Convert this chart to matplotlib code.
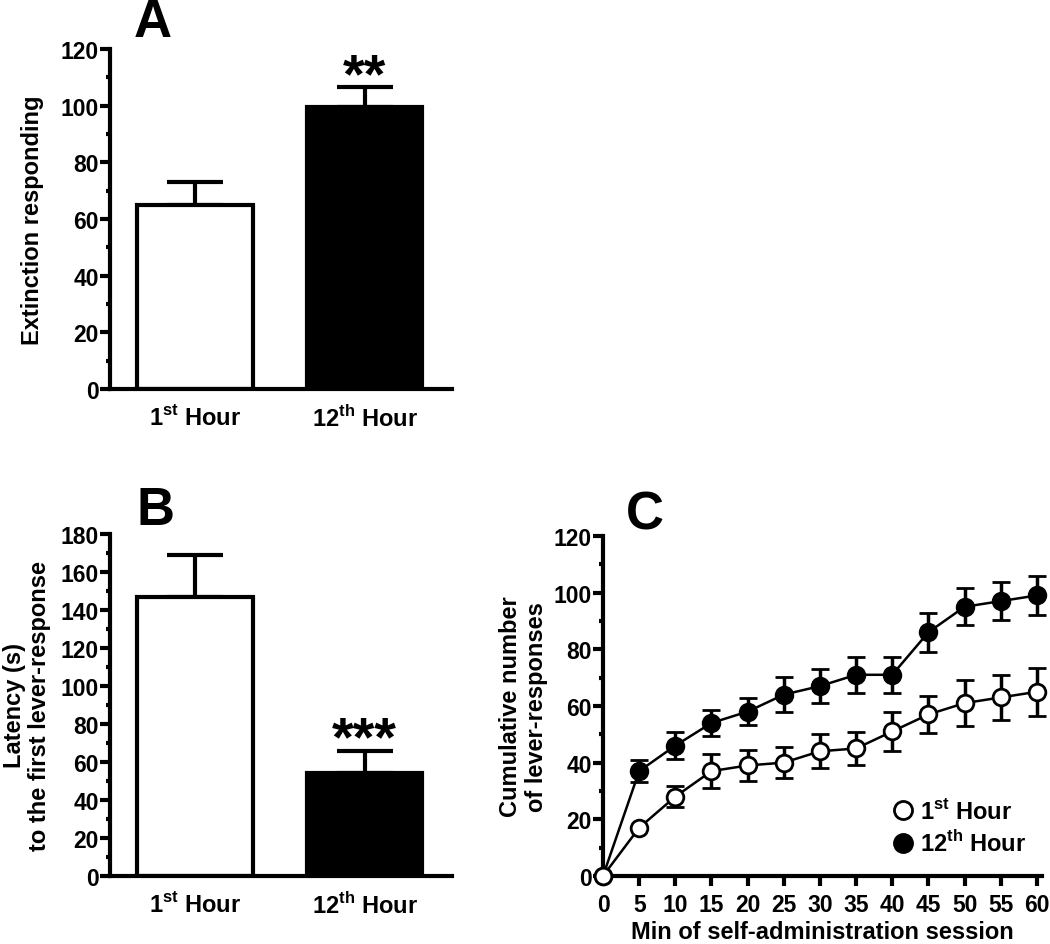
import matplotlib
matplotlib.use("Agg")
import matplotlib.pyplot as plt
from matplotlib.ticker import MultipleLocator
from matplotlib.lines import Line2D

plt.rcParams['font.family'] = ['Liberation Sans', 'DejaVu Sans']
plt.rcParams['font.weight'] = 'bold'
plt.rcParams['mathtext.fontset'] = 'custom'
plt.rcParams['mathtext.rm'] = 'Liberation Sans'
plt.rcParams['mathtext.bf'] = 'Liberation Sans:bold'

# data
groups = [r'1$^{\mathrm{st}}$ Hour', r'12$^{\mathrm{th}}$ Hour']
ext_mean = [65, 99.5]
ext_sem = [8, 7]
lat_mean = [147, 54]
lat_sem = [22, 12]
minutes = [0, 5, 10, 15, 20, 25, 30, 35, 40, 45, 50, 55, 60]
first_mean = [0, 17, 28, 37, 39, 40, 44, 45, 51, 57, 61, 63, 65]
first_sem = [0, 0, 3.8, 6, 5.5, 5.5, 6, 5.8, 7, 6.5, 8, 8, 8.5]
twelfth_mean = [0, 37, 46, 54, 58, 64, 67, 71, 71, 86, 95, 97, 99]
twelfth_sem = [0, 3.8, 4.8, 4.5, 4.8, 6.2, 6, 6.4, 6.4, 6.8, 6.6, 6.8, 7]

fig = plt.figure(figsize=(10.5, 9.45), dpi=100)

LW = 3
TICK_FS = 16.5
LAB_FS = 17


def style_axes(ax):
    for s in ['top', 'right']:
        ax.spines[s].set_visible(False)
    for s in ['left', 'bottom']:
        ax.spines[s].set_linewidth(LW)
    ax.tick_params(axis='y', which='major', direction='out', length=7, width=LW,
                   labelsize=TICK_FS, pad=1)
    ax.tick_params(axis='y', which='minor', direction='out', length=3, width=LW)
    for lab in ax.get_yticklabels():
        lab.set_fontweight('bold')


def bar_panel(ax, means, sems, ymax, step, ylabel, stars):
    x = [0, 1]
    ax.bar(x, means, width=0.68, color=['white', 'black'], edgecolor='black',
           linewidth=LW, zorder=2)
    for xi, m, s in zip(x, means, sems):
        ax.errorbar(xi, m, yerr=[[0], [s]], fmt='none', ecolor='black',
                    elinewidth=LW, capsize=20, capthick=LW, zorder=1)
    ax.set_xlim(-0.5, 1.515)
    ax.set_ylim(0, ymax)
    ax.yaxis.set_major_locator(MultipleLocator(step))
    ax.yaxis.set_minor_locator(MultipleLocator(step / 2))
    ax.set_xticks(x)
    ax.set_xticklabels(groups, fontsize=LAB_FS, fontweight='bold')
    ax.tick_params(axis='x', length=0, pad=11)
    ax.set_ylabel(ylabel, fontsize=LAB_FS, fontweight='bold', linespacing=1.15)
    style_axes(ax)
    # significance stars just above the error cap
    ax.annotate(stars, xy=(1, means[1] + sems[1]), xytext=(0, -3),
                textcoords='offset points', ha='center', va='baseline',
                fontsize=40, fontweight='bold')


axA = fig.add_axes([0.1048, 0.5873, 0.3257, 0.3598])
bar_panel(axA, ext_mean, ext_sem, 120, 20, 'Extinction responding', '**')
axA.yaxis.set_label_coords(-0.193, 0.5)

axB = fig.add_axes([0.1048, 0.0720, 0.3257, 0.3619])
bar_panel(axB, lat_mean, lat_sem, 180, 20,
          'Latency (s)\nto the first lever-response', '***')
axB.yaxis.set_minor_locator(MultipleLocator(10))
axB.yaxis.set_label_coords(-0.172, 0.5)

axC = fig.add_axes([0.5743, 0.0720, 0.418, 0.3598])
axC.errorbar(minutes, first_mean, yerr=first_sem, color='black', lw=1.8,
             marker='o', ms=12, mfc='white', mec='black', mew=2,
             elinewidth=2.5, capsize=6.5, capthick=2.5, clip_on=False, zorder=3)
axC.errorbar(minutes, twelfth_mean, yerr=twelfth_sem, color='black', lw=1.8,
             marker='o', ms=12, mfc='black', mec='black', mew=2,
             elinewidth=2.5, capsize=6.5, capthick=2.5, clip_on=False, zorder=2)
axC.set_xlim(0, 60.7)
axC.set_ylim(0, 120)
axC.xaxis.set_major_locator(MultipleLocator(5))
axC.yaxis.set_major_locator(MultipleLocator(20))
axC.yaxis.set_minor_locator(MultipleLocator(10))
axC.tick_params(axis='x', direction='out', length=7, width=LW, labelsize=TICK_FS, pad=5)
for lab in axC.get_xticklabels():
    lab.set_fontweight('bold')
style_axes(axC)
axC.set_xlabel('Min of self-administration session', fontsize=LAB_FS,
               fontweight='bold', labelpad=3)
axC.set_ylabel('Cumulative number\nof lever-responses', fontsize=LAB_FS,
               fontweight='bold', linespacing=1.15)
axC.yaxis.set_label_coords(-0.125, 0.5)

handles = [Line2D([], [], ls='none', marker='o', ms=13, mfc='white', mec='black', mew=2),
           Line2D([], [], ls='none', marker='o', ms=13, mfc='black', mec='black', mew=2)]
axC.legend(handles, [r'1$^{\mathbf{st}}$ Hour', r'12$^{\mathbf{th}}$ Hour'],
           loc='lower right', bbox_to_anchor=(0.985, 0.03), frameon=False,
           prop={'size': 17, 'weight': 'bold'}, handletextpad=0.15,
           borderaxespad=0, labelspacing=0.3, handlelength=1.1)

fig.text(153 / 1050, 1 - 37 / 945, 'A', fontsize=38, fontweight='bold', ha='center', va='baseline')
fig.text(155 / 1050, 1 - 525 / 945, 'B', fontsize=38, fontweight='bold', ha='center', va='baseline')
fig.text(645 / 1050, 1 - 530 / 945, 'C', fontsize=38, fontweight='bold', ha='center', va='baseline')

fig.savefig('out.png', dpi=100)
